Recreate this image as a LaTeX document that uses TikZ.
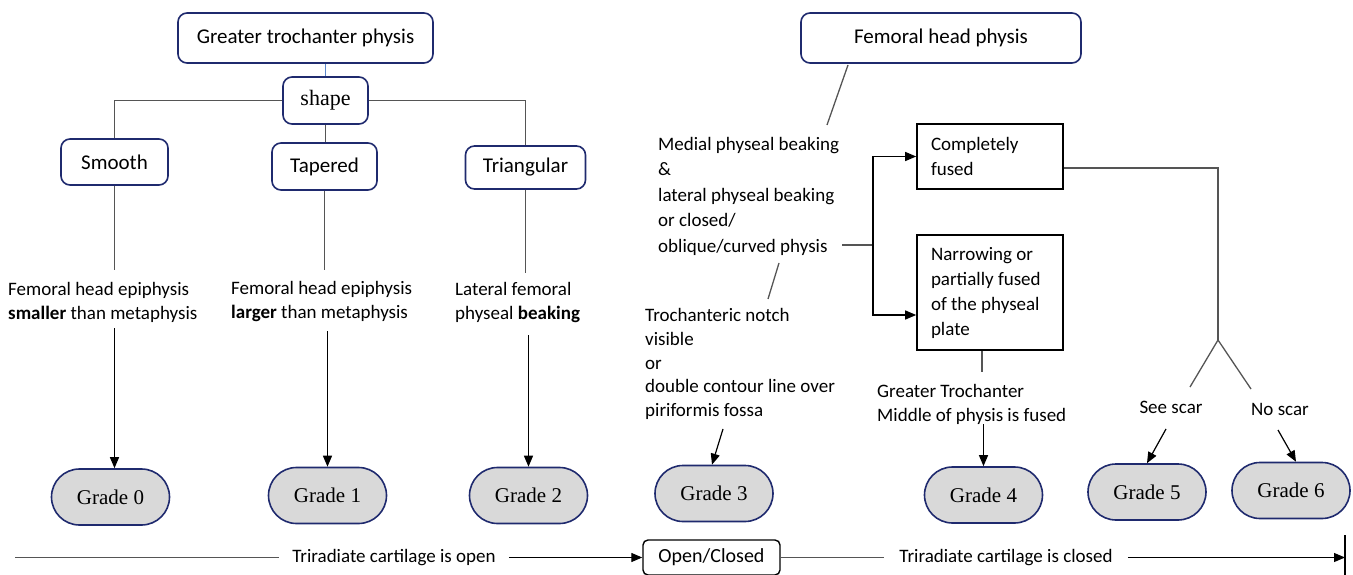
\documentclass[tikz,border=0pt]{standalone}
\usepackage{fontspec}
\setmainfont{Carlito}
\newfontfamily\gradefont{Liberation Serif}
\usetikzlibrary{arrows.meta}
\definecolor{navy}{HTML}{1F2A6E}
\definecolor{gradegray}{HTML}{D9D9D9}
\definecolor{treegray}{HTML}{555555}
\definecolor{linkblue}{HTML}{5B87CC}

\begin{document}
\begin{tikzpicture}[x=1pt,y=-1pt,
    >={Triangle[length=11pt,width=9pt]},
    rbox/.style={draw=navy,line width=1.6pt,rounded corners=9pt,fill=white,
      inner sep=0pt,font=\fontsize{21}{25}\selectfont},
    grade/.style={draw=navy,line width=1.6pt,fill=gradegray,rounded corners=28pt,
      minimum width=118pt,minimum height=56pt,inner sep=0pt,
      font=\gradefont\fontsize{21}{25}\selectfont},
    sqbox/.style={draw=black,line width=1.6pt,inner xsep=14pt,inner ysep=0pt,
      text width=118pt,align=flush left,minimum height=#1,font=\fontsize{19}{25}\selectfont},
    txt/.style={inner sep=0pt,align=left,font=\fontsize{19}{24}\selectfont},
    tree/.style={draw=treegray,line width=1.3pt},
    arr/.style={draw=black,line width=1.2pt,->}]
    \useasboundingbox (0,0) rectangle (1353,575);

    % greater trochanter side
    \node[rbox,minimum width=255pt,minimum height=50pt] (gtp) at (305.5,38) {Greater trochanter physis};
    \node[rbox,minimum width=85pt,minimum height=47pt,font=\gradefont\fontsize{22}{25}\selectfont] (shape) at (325.5,100.5) {shape};
    \node[rbox,minimum width=107pt,minimum height=46pt] (smooth) at (114.5,162) {Smooth};
    \node[rbox,minimum width=105pt,minimum height=47pt] (tapered) at (324.5,166.5) {Tapered};
    \node[rbox,minimum width=120pt,minimum height=43pt] (triang) at (525.5,167.5) {Triangular};
    \node[txt,anchor=west] (t0) at (8,302) {Femoral head epiphysis\\\textbf{smaller} than metaphysis};
    \node[txt,anchor=west] (t1) at (231,302) {Femoral head epiphysis\\\textbf{larger} than metaphysis};
    \node[txt,anchor=west] (t2) at (455,303) {Lateral femoral\\physeal \textbf{beaking}};
    \node[grade] (g0) at (110.5,497) {Grade 0};
    \node[grade] (g1) at (327.5,495.5) {Grade 1};
    \node[grade] (g2) at (528.5,495.5) {Grade 2};

    \draw[linkblue,line width=1.3pt] (shape.north) -- (shape.north |- gtp.south);
    \draw[tree] (shape.west) -| (smooth.north);
    \draw[tree] (shape.south) -- (shape.south |- tapered.north);
    \draw[tree] (shape.east) -| (triang.north);
    \draw[tree,shorten >=12pt] (smooth.south) -- (smooth.south |- t0.north);
    \draw[tree,shorten >=12pt] (tapered.south) -- (tapered.south |- t1.north);
    \draw[tree,shorten >=10pt] (triang.south) -- (triang.south |- t2.north);
    \draw[arr,shorten <=6pt] (smooth |- t0.south) -- (smooth |- g0.north);
    \draw[arr,shorten <=9pt] (g1 |- t1.south) -- (g1.north);
    \draw[arr,shorten <=12pt] (g2 |- t2.south) -- (g2.north);

    % femoral head side
    \node[rbox,minimum width=280pt,minimum height=50pt] (fhp) at (941,38) {Femoral head physis};
    \node[txt,anchor=west,font=\fontsize{19}{25.5}\selectfont] (medial) at (658,196)
      {Medial physeal beaking\\\&\\lateral physeal beaking\\or closed/\\oblique/curved physis};
    \node[sqbox=65pt] (complete) at (990,156.5) {Completely\\fused};
    \node[sqbox=115pt] (narrow) at (990,292.5) {Narrowing or\\partially fused\\of the physeal\\plate};
    \node[txt,anchor=west,font=\fontsize{19}{23.75}\selectfont] (troch) at (645,364)
      {Trochanteric notch\\visible\\or\\double contour line over\\piriformis fossa};
    \node[txt,anchor=west] (gtfused) at (877,404) {Greater Trochanter\\Middle of physis is fused};
    \node[txt] (seescar) at (1171,407) {See scar};
    \node[txt] (noscar) at (1280,409) {No scar};
    \node[grade] (g3) at (714,493.5) {Grade 3};
    \node[grade] (g4) at (983.5,495) {Grade 4};
    \node[grade] (g5) at (1147,492) {Grade 5};
    \node[grade] (g6) at (1291,490.5) {Grade 6};

    \coordinate (fork) at (873,245);
    \coordinate (split) at (1218,340);
    \coordinate (fhpfoot) at (848,65);
    \coordinate (medtop) at (827,125);
    \coordinate (medfoot) at (779,263);
    \coordinate (trochtop) at (768,299);
    \coordinate (trochfoot) at (723,429);
    \coordinate (narrowfoot) at (982,372);
    \coordinate (seetop) at (1190,387);
    \coordinate (notop) at (1251,389);
    \coordinate (seefoot) at (1166,429);
    \coordinate (nofoot) at (1278,430);

    \draw[tree] (fhpfoot) -- (medtop);
    \draw[tree] ([xshift=3pt]medial.east |- fork) -- (fork);
    \draw[arr] (fork) |- (complete.west);
    \draw[arr] (fork) |- ([yshift=-22.5pt]narrow.west);
    \draw[tree] (medfoot) -- (trochtop);
    \draw[arr] (trochfoot) -- ([xshift=-2pt]g3.north);
    \draw[tree] ([yshift=-11.5pt]complete.east) -| (split);
    \draw[tree] (split) -- (seetop);
    \draw[tree] (split) -- (notop);
    \draw[tree] ([xshift=-8pt]narrow.south) -- (narrowfoot);
    \draw[arr] (g4 |- gtfused.south) -- (g4.north);
    \draw[arr] (seefoot) -- (g5.north);
    \draw[arr] (nofoot) -- ([xshift=5pt]g6.north);

    % triradiate cartilage row
    \coordinate (start) at (15,557.5);
    \coordinate (stop) at (1345,557.5);
    \coordinate (bartop) at (1345,535);
    \coordinate (barbot) at (1345,580);
    \node[txt,inner xsep=13pt] (opentxt) at (394,557.5) {Triradiate cartilage is open};
    \node[draw,line width=1.4pt,rounded corners=5pt,minimum width=137pt,minimum height=35pt,
      inner sep=0pt,font=\fontsize{20}{24}\selectfont] (oc) at (711.5,557.5) {Open/Closed};
    \node[txt,inner xsep=15pt] (closedtxt) at (1006,557.5) {Triradiate cartilage is closed};
    \draw[tree] (start) -- (opentxt);
    \draw[arr] (opentxt) -- (oc);
    \draw[tree] (oc) -- (closedtxt);
    \draw[arr] (closedtxt) -- (stop);
    \draw[line width=1.3pt] (bartop) -- (barbot);
\end{tikzpicture}
\end{document}
